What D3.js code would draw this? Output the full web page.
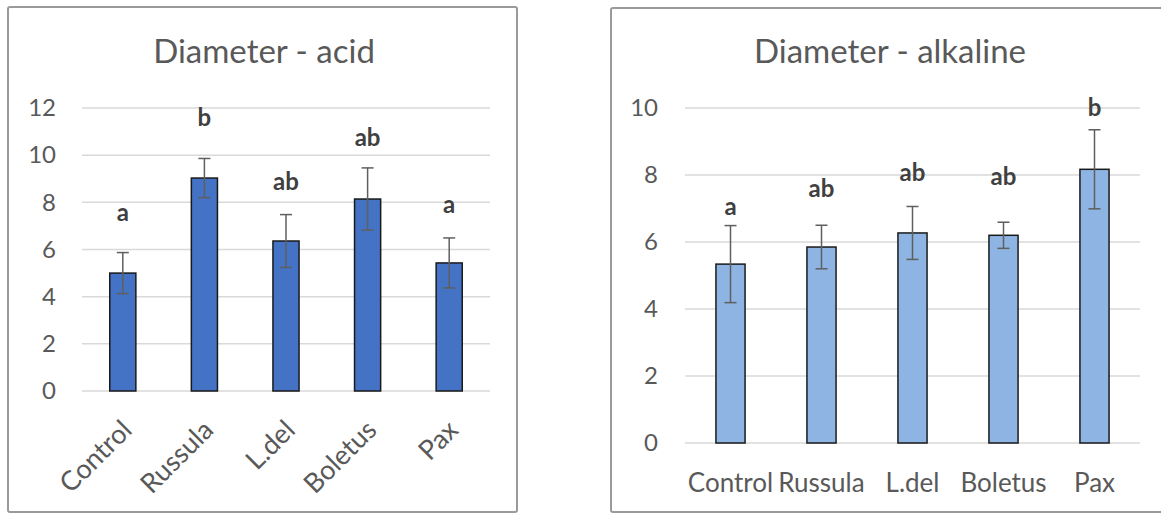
<!DOCTYPE html>
<html>
<head>
<meta charset="utf-8">
<script src="https://d3js.org/d3.v7.min.js"></script>
<style>
  body { margin: 0; background: #fff; }
  text { font-family: Lato, "Open Sans", sans-serif; }
</style>
</head>
<body>
<svg width="1161" height="513"></svg>
<script>
const categories = ["Control", "Russula", "L.del", "Boletus", "Pax"];

// acid
const acidMean = [5.0, 9.03, 6.36, 8.14, 5.43];
const acidErr = [0.87, 0.83, 1.12, 1.32, 1.06];
const acidLetters = ["a", "b", "ab", "ab", "a"];
const acidLetterAt = [7.55, 11.58, 8.86, 10.73, 7.89];
const acidTicks = [0, 2, 4, 6, 8, 10, 12];

// alkaline
const alkMean = [5.34, 5.85, 6.27, 6.2, 8.17];
const alkErr = [1.15, 0.65, 0.79, 0.39, 1.18];
const alkLetters = ["a", "ab", "ab", "ab", "b"];
const alkLetterAt = [7.07, 7.58, 8.06, 7.94, 10.0];
const alkTicks = [0, 2, 4, 6, 8, 10];

const svg = d3.select("svg");

function panel(opt) {
  const g = svg.append("g");

  // chart frame
  g.append("rect")
    .attr("x", opt.frame[0]).attr("y", opt.frame[1])
    .attr("width", opt.frame[2]).attr("height", opt.frame[3])
    .attr("rx", 2)
    .attr("fill", "#fff")
    .attr("stroke", "#9a9a9a")
    .attr("stroke-width", 2);

  g.append("text")
    .attr("x", opt.titleX).attr("y", 63)
    .attr("text-anchor", "middle")
    .attr("fill", "#595959")
    .style("font-size", "33px")
    .text(opt.title);

  const x = d3.scaleBand().domain(categories).range(opt.xRange);
  const y = d3.scaleLinear().domain([0, d3.max(opt.ticks)]).range(opt.yRange);
  const bw = x.bandwidth() * 0.32;

  // gridlines
  g.selectAll(".grid")
    .data(opt.ticks)
    .enter().append("line")
    .attr("x1", opt.xRange[0]).attr("x2", opt.xRange[1])
    .attr("y1", d => y(d)).attr("y2", d => y(d))
    .attr("stroke", "#d9d9d9")
    .attr("stroke-width", 1.5);

  const yAxis = g.append("g")
    .attr("transform", `translate(${opt.xRange[0]},0)`)
    .call(d3.axisLeft(y).tickValues(opt.ticks).tickSize(0).tickPadding(opt.tickPad));
  yAxis.select(".domain").remove();
  yAxis.selectAll("text")
    .attr("fill", "#595959")
    .style("font-size", "24px")
    .style("font-family", "Lato, sans-serif");

  const cx = c => x(c) + x.bandwidth() / 2;

  g.selectAll(".bar")
    .data(categories)
    .enter().append("rect")
    .attr("x", d => cx(d) - bw / 2)
    .attr("y", (d, i) => y(opt.mean[i]))
    .attr("width", bw)
    .attr("height", (d, i) => y(0) - y(opt.mean[i]))
    .attr("fill", opt.color)
    .attr("stroke", "#1a1a1a")
    .attr("stroke-width", 1.5);

  // error bars
  const eb = g.selectAll(".err")
    .data(categories)
    .enter().append("g")
    .attr("stroke", "#5f5f5f")
    .attr("stroke-width", 1.5);
  eb.append("line")
    .attr("x1", d => cx(d)).attr("x2", d => cx(d))
    .attr("y1", (d, i) => y(opt.mean[i] + opt.err[i]))
    .attr("y2", (d, i) => y(opt.mean[i] - opt.err[i]));
  eb.append("line")
    .attr("x1", d => cx(d) - 6).attr("x2", d => cx(d) + 6)
    .attr("y1", (d, i) => y(opt.mean[i] + opt.err[i]))
    .attr("y2", (d, i) => y(opt.mean[i] + opt.err[i]));
  eb.append("line")
    .attr("x1", d => cx(d) - 6).attr("x2", d => cx(d) + 6)
    .attr("y1", (d, i) => y(opt.mean[i] - opt.err[i]))
    .attr("y2", (d, i) => y(opt.mean[i] - opt.err[i]));

  // significance letters
  g.selectAll(".letter")
    .data(categories)
    .enter().append("text")
    .attr("x", d => cx(d))
    .attr("y", (d, i) => y(opt.letterAt[i]))
    .attr("dy", "0.35em")
    .attr("text-anchor", "middle")
    .attr("fill", "#404040")
    .style("font-size", "24px")
    .style("font-weight", "bold")
    .text((d, i) => opt.letters[i]);

  // category labels
  const lab = g.selectAll(".cat")
    .data(categories)
    .enter().append("text")
    .attr("fill", "#595959")
    .text(d => d);
  if (opt.rotate) {
    lab.attr("text-anchor", "end")
      .attr("dy", "0.35em")
      .style("font-size", "27px")
      .attr("transform", d => `translate(${cx(d) + 4},${y(0) + 34}) rotate(-45)`);
  } else {
    lab.attr("text-anchor", "middle")
      .style("font-size", "26px")
      .attr("x", d => cx(d))
      .attr("y", y(0) + 49);
  }
}

panel({
  title: "Diameter - acid",
  frame: [8, 7, 509, 505],
  titleX: 264,
  xRange: [82, 490],
  yRange: [391, 108],
  ticks: acidTicks,
  tickPad: 26,
  mean: acidMean, err: acidErr,
  letters: acidLetters, letterAt: acidLetterAt,
  color: "#4472c4",
  rotate: true
});

panel({
  title: "Diameter - alkaline",
  frame: [611, 8, 570, 504],
  titleX: 890,
  xRange: [685, 1140],
  yRange: [443, 108],
  ticks: alkTicks,
  tickPad: 27,
  mean: alkMean, err: alkErr,
  letters: alkLetters, letterAt: alkLetterAt,
  color: "#8eb4e3",
  rotate: false
});
</script>
</body>
</html>
